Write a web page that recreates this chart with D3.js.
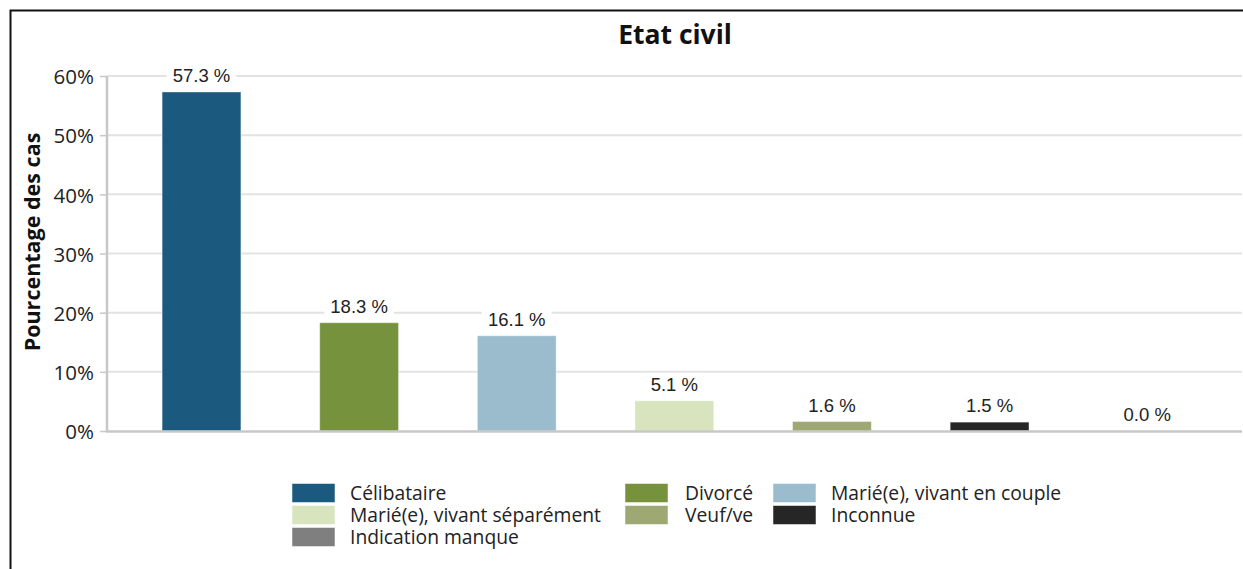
<!DOCTYPE html>
<html><head><meta charset="utf-8">
<script src="https://cdn.jsdelivr.net/npm/d3@7"></script>
<style>
html,body{margin:0;padding:0;background:#fff;}
svg{display:block;}
</style></head>
<body>
<svg id="chart" width="1243" height="569"></svg>
<script>
const categories = ["Célibataire","Divorcé","Marié(e), vivant en couple","Marié(e), vivant séparément","Veuf/ve","Inconnue","Indication manque"];
const values = [57.3, 18.3, 16.1, 5.1, 1.6, 1.5, 0.0];
const colors = ["#1b5a7e","#76923c","#9bbccd","#d7e4bd","#9ea873","#262626","#7f7f7f"];
const yTicks = [0,10,20,30,40,50,60];
const legendOrder = ["Célibataire","Divorcé","Marié(e), vivant en couple","Marié(e), vivant séparément","Veuf/ve","Inconnue","Indication manque"];
const title = "Etat civil";
const yLabel = "Pourcentage des cas";

const svg = d3.select("#chart");
const uiFont = "'Open Sans', 'Noto Sans', sans-serif";
const labelFont = "'Liberation Sans', Arial, sans-serif";

// frame
svg.append("path").attr("d","M10.5,569 L10.5,10.5 L1243,10.5").attr("fill","none").attr("stroke","#111").attr("stroke-width",2);

const x = d3.scaleBand().domain(categories).range([122.7, 1226]).paddingInner(0.5).paddingOuter(0.25);
const y = d3.scaleLinear().domain([0,60]).range([431,76]);

// gridlines
svg.append("g").selectAll("line").data(yTicks.filter(d=>d>0)).join("line")
  .attr("x1",107).attr("x2",1242).attr("y1",d=>y(d)).attr("y2",d=>y(d))
  .attr("stroke","#e3e3e3").attr("stroke-width",2);

// y axis
const yAxis = d3.axisLeft(y).tickValues(yTicks).tickFormat(d=>d+"%").tickSize(7).tickPadding(6);
const gy = svg.append("g").attr("transform","translate(107,0)").call(yAxis);
gy.select(".domain").attr("stroke","#c8c8c8").attr("stroke-width",2.5).attr("d","M0,76V431");
gy.selectAll(".tick line").attr("stroke","#c8c8c8").attr("stroke-width",1.5);
gy.selectAll(".tick text").attr("fill","#222").attr("dy","0.38em").style("font-family",uiFont).style("font-size","20.5px");

// bars
svg.append("g").selectAll("rect").data(values).join("rect")
  .attr("x",(d,i)=>x(categories[i]))
  .attr("width",x.bandwidth())
  .attr("y",d=>y(d))
  .attr("height",d=>y(0)-y(d))
  .attr("fill",(d,i)=>colors[i])
  .attr("stroke","#ffffff").attr("stroke-opacity",0.4).attr("stroke-width",1);

// x axis line
svg.append("line").attr("x1",106).attr("x2",1242).attr("y1",431.5).attr("y2",431.5)
  .attr("stroke","#c8c8c8").attr("stroke-width",2.5);

// data labels with white background
const lg = svg.append("g").selectAll("g").data(values).join("g")
  .attr("transform",(d,i)=>`translate(${x(categories[i])+x.bandwidth()/2},${y(d)-10})`);
lg.append("text").text(d=>d.toFixed(1)+" %")
  .attr("text-anchor","middle").attr("fill","#222")
  .style("font-family",labelFont).style("font-size","18.5px");
lg.each(function(){
  const g=d3.select(this); const bb=g.select("text").node().getBBox();
  g.insert("rect","text").attr("x",bb.x-6).attr("y",bb.y-1).attr("width",bb.width+12).attr("height",bb.height+2).attr("fill","#fff");
});

// title
svg.append("text").text(title).attr("x",675).attr("y",44).attr("text-anchor","middle")
  .style("font-family",uiFont).style("font-weight","bold").style("font-size","26.5px").attr("fill","#111");

// y label
svg.append("text").text(yLabel).attr("transform","translate(40,242) rotate(-90)").attr("text-anchor","middle")
  .style("font-family",uiFont).style("font-weight","bold").style("font-size","21.5px").attr("fill","#111");

// legend
const colX = [[292,350],[625,685],[773,831]];
const rowY = [483.5,505.5,527.5];
const leg = svg.append("g").selectAll("g").data(legendOrder).join("g")
  .attr("transform",(d,i)=>`translate(${colX[i%3][0]},${rowY[Math.floor(i/3)]})`);
leg.append("rect").attr("width",43).attr("height",19)
  .attr("fill",d=>colors[categories.indexOf(d)]).attr("stroke","#fff").attr("stroke-opacity",0.5);
leg.append("text").text(d=>d).attr("x",(d,i)=>colX[i%3][1]-colX[i%3][0]).attr("y",16)
  .style("font-family",uiFont).style("font-size","19.3px").attr("fill","#222");
</script>
</body></html>
